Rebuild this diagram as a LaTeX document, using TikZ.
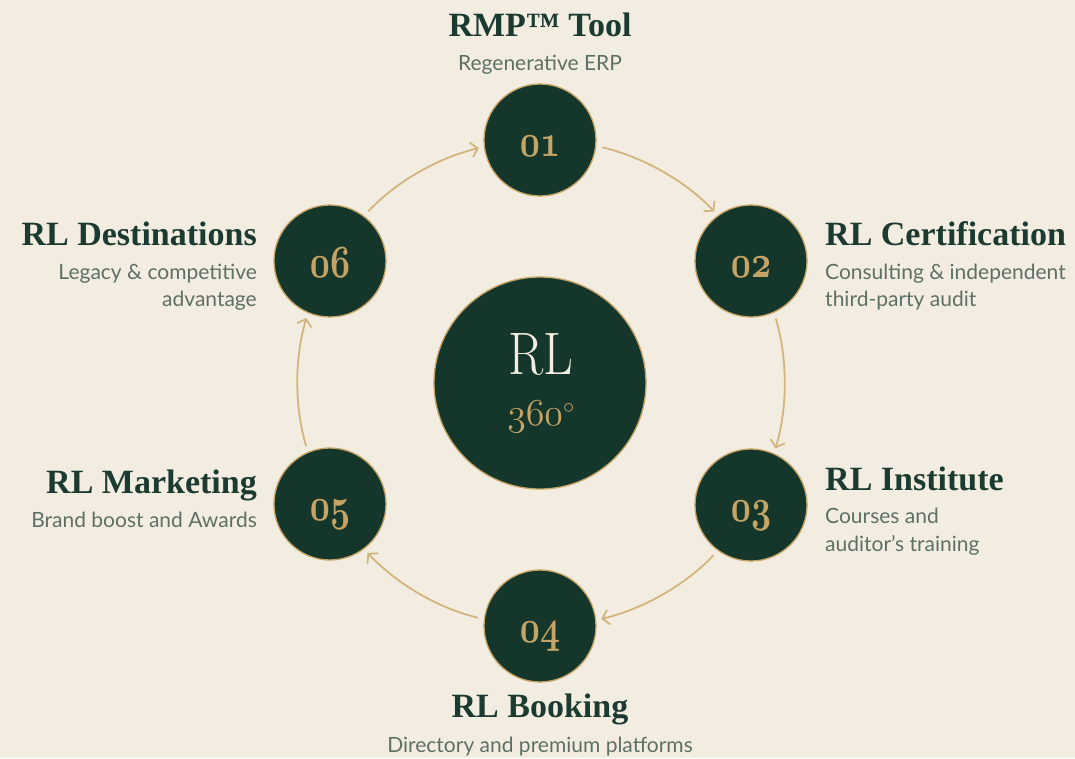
\documentclass[tikz,border=0pt]{standalone}
\usepackage{fix-cm}
\usepackage{fontspec}
\usetikzlibrary{arrows.meta}
\newfontfamily\ttlfont{Liberation Serif}
\newfontfamily\subfont{Lato}
\definecolor{bg}{HTML}{F3EDE1}
\definecolor{dkgreen}{HTML}{15372B}
\definecolor{gold}{HTML}{C6A466}
\definecolor{arrowgold}{HTML}{D1B57F}
\definecolor{ttl}{HTML}{1B3B30}
\definecolor{subc}{HTML}{5E7064}
\newcommand{\osfb}[1]{{\fontencoding{OML}\fontfamily{cmm}\fontseries{b}\fontshape{it}\fontsize{46}{46}\selectfont #1}}
\newcommand{\osfm}[1]{{\fontencoding{OML}\fontfamily{cmm}\fontseries{m}\fontshape{it}\fontsize{38}{38}\selectfont #1}}
\begin{document}
\begin{tikzpicture}[x=1pt,y=-1pt,
  numc/.style={circle,fill=dkgreen,draw=gold,line width=1.3pt,minimum size=112pt,inner sep=0pt},
  conn/.style={draw=arrowgold,line width=1.8pt,-{Straight Barb[length=6.5pt,width=15pt,line width=1.8pt]},shorten >=5pt,shorten <=6pt,looseness=0.87},
  ttlstyle/.style={font=\ttlfont\bfseries\fontsize{34}{40}\selectfont,text=ttl,inner sep=0pt},
  substyle/.style={font=\subfont\fontsize{21}{26}\selectfont,text=subc,inner sep=0pt},
  numtxt/.style={text=gold,inner sep=0pt,anchor=base}]
\fill[bg] (0,0) rectangle (1075,758);
\useasboundingbox (0,0) rectangle (1075,758);
% centre
\node[numc,minimum size=212pt] (c) at (540,383) {};
\node[text=bg,inner sep=0pt,anchor=base,font=\fontsize{60}{60}\selectfont] (rl) at (541,374) {\scalebox{0.86}[1]{RL}};
\node[text=gold,inner sep=0pt,anchor=base] (deg) at (541,425) {\osfm{360}{\fontsize{32}{32}\selectfont$^{\circ}$}};
% number circles
\node[numc] (n1) at (540,140) {};
\node[numc] (n2) at (751,261) {};
\node[numc] (n3) at (751,505) {};
\node[numc] (n4) at (540,626) {};
\node[numc] (n5) at (330,504) {};
\node[numc] (n6) at (330,261) {};
\node[numtxt] (t1) at (540,156) {\scalebox{0.76}[1]{\osfb{01}}};
\node[numtxt] (t2) at (751,277) {\scalebox{0.76}[1]{\osfb{02}}};
\node[numtxt] (t3) at (751,521) {\scalebox{0.76}[1]{\osfb{03}}};
\node[numtxt] (t4) at (540,642) {\scalebox{0.76}[1]{\osfb{04}}};
\node[numtxt] (t5) at (330,520) {\scalebox{0.76}[1]{\osfb{05}}};
\node[numtxt] (t6) at (330,277) {\scalebox{0.76}[1]{\osfb{06}}};
% connectors (arcs of the ring through the circle centres)
\draw[conn] (n1.-6.65) to[out=-13.3, in=133.3] (n2.126.65);
\draw[conn] (n2.-66.65) to[out=-73.3, in=73.3] (n3.66.65);
\draw[conn] (n3.-126.65) to[out=-133.3, in=13.3] (n4.6.65);
\draw[conn] (n4.173.35) to[out=166.7, in=-46.7] (n5.-53.35);
\draw[conn] (n5.113.35) to[out=106.7, in=-106.7] (n6.-113.35);
\draw[conn] (n6.53.35) to[out=46.7, in=-166.7] (n1.-173.35);
% labels
\node[ttlstyle,anchor=base] (l1) at (540,36) {RMP™ Tool};
\node[substyle,anchor=base] (s1) at (540,70) {Regenerative ERP};
\node[ttlstyle,anchor=base west] (l2) at (825,245) {RL Certification};
\node[substyle,anchor=base west] (s2a) at (825,279) {Consulting \& independent};
\node[substyle,anchor=base west] (s2b) at (825,306) {third-party audit};
\node[ttlstyle,anchor=base west] (l3) at (825,490) {RL Institute};
\node[substyle,anchor=base west] (s3a) at (825,523) {Courses and};
\node[substyle,anchor=base west] (s3b) at (825,551) {auditor’s training};
\node[ttlstyle,anchor=base] (l4) at (540,717) {RL Booking};
\node[substyle,anchor=base] (s4) at (540,752) {Directory and premium platforms};
\node[ttlstyle,anchor=base east] (l5) at (257,493) {RL Marketing};
\node[substyle,anchor=base east] (s5) at (257,527) {Brand boost and Awards};
\node[ttlstyle,anchor=base east] (l6) at (257,245) {RL Destinations};
\node[substyle,anchor=base east] (s6a) at (257,279) {Legacy \& competitive};
\node[substyle,anchor=base east] (s6b) at (257,306) {advantage};
\end{tikzpicture}
\end{document}
